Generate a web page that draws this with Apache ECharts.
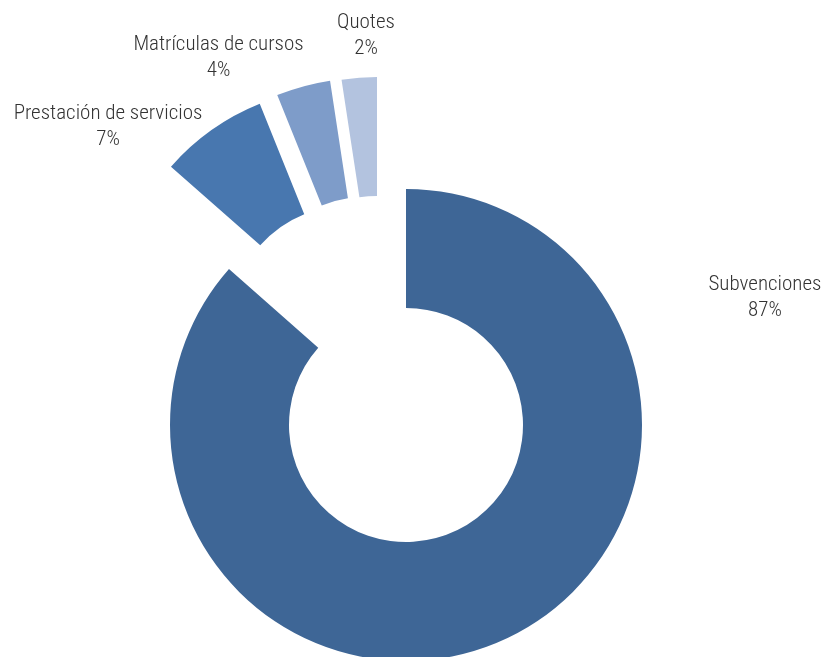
<!DOCTYPE html>
<html><head><meta charset="utf-8">
<script src="https://cdn.jsdelivr.net/npm/echarts@6/dist/echarts.min.js"></script>
<style>html,body{margin:0;padding:0;background:#fff}#c{width:827px;height:657px}</style>
</head><body><div id="c"></div>
<script>
// ---- data ----
const categories = ['Subvenciones', 'Prestación de servicios', 'Matrículas de cursos', 'Quotes'];
const values = [86.5, 7.4, 3.7, 2.4];

// ---- style / layout ----
const colors = ['#3E6696', '#4877AF', '#7E9CC9', '#B3C3DF'];
const CENTER = [406, 425];
const RADIUS = [117, 236];
const explode = [[0, 0], [-58, -102.3], [-40.5, -111], [-29, -112]];
const labelAnchor = [[765, 298], [108, 126.5], [218.5, 57.5], [366, 36]];
const labelFont = {
  fontFamily: "'Roboto Condensed','Liberation Sans Narrow','DejaVu Sans Condensed',Roboto,sans-serif",
  fontWeight: 300, fontSize: 21, lineHeight: 26, color: '#333333'
};

const chart = echarts.init(document.getElementById('c'), null, { renderer: 'canvas' });

const series = categories.map((_, k) => ({
  type: 'pie',
  silent: true,
  animation: false,
  startAngle: 90,
  clockwise: true,
  center: [CENTER[0] + explode[k][0], CENTER[1] + explode[k][1]],
  radius: RADIUS,
  avoidLabelOverlap: false,
  percentPrecision: 0,
  labelLine: { show: false },
  emphasis: { disabled: true },
  labelLayout: (p) => ({
    x: labelAnchor[p.dataIndex][0], y: labelAnchor[p.dataIndex][1],
    align: 'center', verticalAlign: 'middle'
  }),
  data: categories.map((name, i) => ({
    name, value: values[i],
    itemStyle: { color: i === k ? colors[i] : 'rgba(0,0,0,0)', borderWidth: 0 },
    label: Object.assign({ show: i === k, position: 'outside', formatter: '{b}\n{d}%', align: 'center' }, labelFont)
  }))
}));

chart.setOption({ backgroundColor: '#ffffff', series });
</script></body></html>
